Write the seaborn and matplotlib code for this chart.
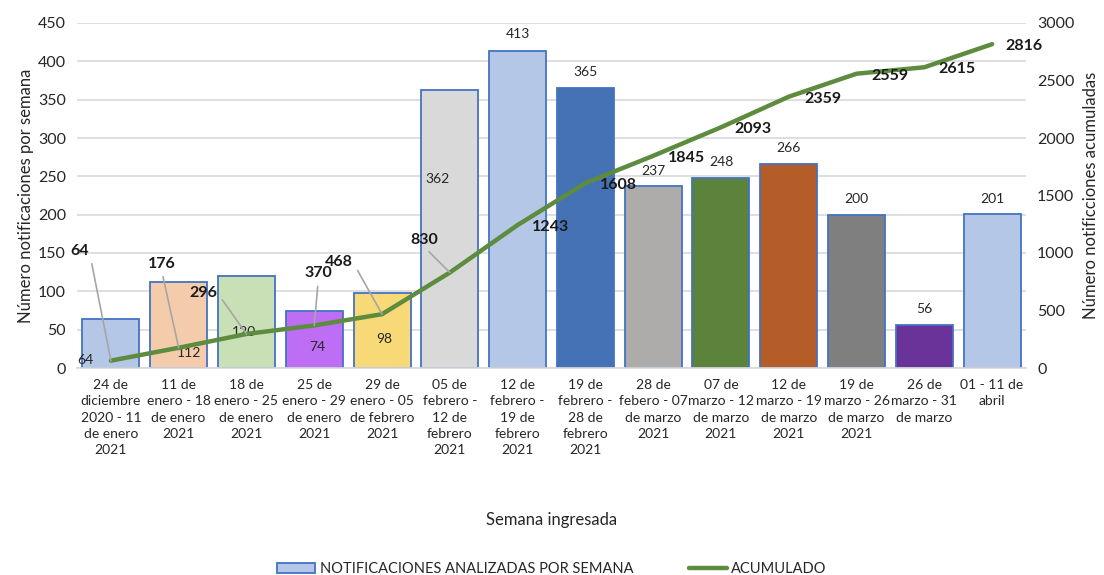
import numpy as np
import pandas as pd
import seaborn as sns
import matplotlib.pyplot as plt
from matplotlib.patches import Patch
from matplotlib.lines import Line2D

sns.set_theme(style="white")
plt.rcParams['font.family'] = ['Lato', 'DejaVu Sans']

# DATOS
semanas = [
    "24 de\ndiciembre\n2020 - 11\nde enero\n2021",
    "11 de\nenero - 18\nde enero\n2021",
    "18 de\nenero - 25\nde enero\n2021",
    "25 de\nenero - 29\nde enero\n2021",
    "29 de\nenero - 05\nde febrero\n2021",
    "05 de\nfebrero -\n12 de\nfebrero\n2021",
    "12 de\nfebrero -\n19 de\nfebrero\n2021",
    "19 de\nfebrero -\n28 de\nfebrero\n2021",
    "28 de\nfebero - 07\nde marzo\n2021",
    "07 de\nmarzo - 12\nde marzo\n2021",
    "12 de\nmarzo - 19\nde marzo\n2021",
    "19 de\nmarzo - 26\nde marzo\n2021",
    "26 de\nmarzo - 31\nde marzo",
    "01 - 11 de\nabril",
]
por_semana = [64, 112, 120, 74, 98, 362, 413, 365, 237, 248, 266, 200, 56, 201]
acumulado = [64, 176, 296, 370, 468, 830, 1243, 1608, 1845, 2093, 2359, 2559, 2615, 2816]

colores = ["#B4C7E7", "#F4CCAC", "#C9E0B6", "#BD6EF5", "#F8D978", "#D9D9D9", "#B4C7E7",
           "#4472B4", "#AEABAB", "#5B833B", "#B55D28", "#7F7F7F", "#6A3399", "#B4C7E7"]

# desplazamientos de etiquetas (pixeles)
off_barras = [(-26, -41), (10, -71), (-2, -56), (3, -36), (2, -46), (-12, -89), (0, 17),
              (0, 16), (0, 15), (0, 16), (0, 16), (0, 16), (0, 16), (0, 15)]
off_linea = [(-31, 110), (-17, 84), (-43, 41), (4, 52), (-43, 52), (-26, 33), (33, -2),
             (33, -2), (33, -2), (32, -2), (34, -2), (33, -2), (33, -2), (32, -2)]
guia_rel = [(1, 0.5), (0.5, 0), (1, 0.5), (0.5, 0), (1, 0.5), (0.5, 0)] + [None] * 8

VERDE = "#5E8C3E"
TXT = "#262626"

fig = plt.figure(figsize=(11.04, 5.75), dpi=100)
ax = fig.add_axes([77 / 1104, 1 - 368 / 575, (1026 - 77) / 1104, 345 / 575])

df = pd.DataFrame({"semana": semanas, "n": por_semana})
sns.barplot(data=df, x="semana", y="n", hue="semana", palette=colores, legend=False,
            width=0.84, saturation=1, edgecolor="#4472C4", linewidth=1.3, ax=ax)

ax.set_ylim(0, 450)
ax.set_yticks(range(0, 451, 50))
ax.set_xlim(-0.5, len(semanas) - 0.5)
ax.yaxis.grid(True, color="#D9D9D9", linewidth=1.2)
ax.set_axisbelow(True)
for s in ["top", "right", "left"]:
    ax.spines[s].set_visible(False)
ax.spines["bottom"].set_color("#D9D9D9")
ax.tick_params(axis="y", labelsize=11.5, colors=TXT, length=0, pad=8)
ax.tick_params(axis="x", labelsize=10, colors=TXT, length=0, pad=8)
for lbl in ax.get_xticklabels():
    lbl.set_linespacing(1.42)
ax.set_ylabel("Número notificaciones por semana", fontsize=12, color=TXT, labelpad=3)
ax.set_xlabel("Semana ingresada", fontsize=12, color=TXT)
ax.xaxis.set_label_coords(0.5, (368 - 520) / 345)
ax.xaxis.label.set_va("center")

for i, v in enumerate(por_semana):
    ax.annotate(str(v), (i, v), xytext=off_barras[i], textcoords="offset pixels",
                ha="center", va="center", fontsize=10, color=TXT)

ax2 = ax.twinx()
sns.lineplot(x=list(range(len(acumulado))), y=acumulado, color=VERDE, linewidth=3.2, ax=ax2)
ax2.set_ylim(0, 3000)
ax2.set_yticks(range(0, 3001, 500))
for s in ["top", "right", "left", "bottom"]:
    ax2.spines[s].set_visible(False)
ax2.tick_params(axis="y", labelsize=11.5, colors=TXT, length=0, pad=8)
ax2.set_ylabel("Número notificciones acumuladas", fontsize=12, color=TXT, labelpad=6)

for i, c in enumerate(acumulado):
    flechas = None
    if guia_rel[i] is not None:
        flechas = dict(arrowstyle="-", color="#A6A6A6", linewidth=1.2, shrinkA=2, shrinkB=0,
                       relpos=guia_rel[i])
    ax2.annotate(str(c), (i, c), xytext=off_linea[i], textcoords="offset pixels",
                 ha="center", va="center", fontsize=11.5, fontweight="bold", color="#1A1A1A",
                 arrowprops=flechas)

handles = [Patch(facecolor="#B4C7E7", edgecolor="#4472C4", linewidth=1.3),
           Line2D([0], [0], color=VERDE, linewidth=3.2)]
fig.legend(handles, ["NOTIFICACIONES ANALIZADAS POR SEMANA", "ACUMULADO"],
           loc="center", bbox_to_anchor=(552 / 1104, 1 - 569 / 575), ncol=2, frameon=False,
           fontsize=10.5, handlelength=2.6, handletextpad=0.3, columnspacing=3.8,
           labelcolor=TXT)

fig.savefig("out.png", dpi=100)
